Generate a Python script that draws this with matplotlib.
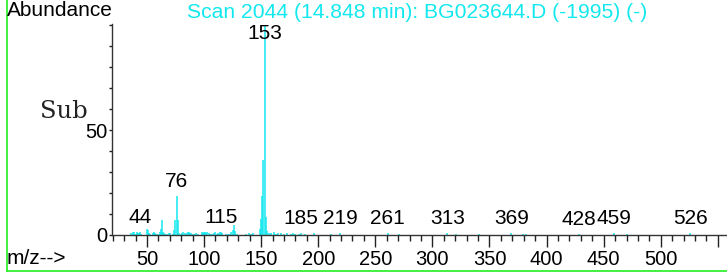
import matplotlib
matplotlib.use("Agg")
import matplotlib.pyplot as plt
from matplotlib.lines import Line2D

# spectrum (m/z, relative abundance)
mz = [36, 38, 39, 40, 41, 42, 43, 44, 45, 50, 51, 52, 53, 55, 56, 57, 58,
      60, 61, 62, 63, 64, 65, 66, 68, 69, 70, 73, 74, 75, 76, 77, 78,
      80, 81, 82, 83, 85, 86, 87, 88, 89, 90, 92, 93, 95, 98, 99, 100,
      101, 102, 103, 104, 105, 107, 109, 110, 111, 112, 113, 114, 115, 116,
      119, 121, 122, 124, 125, 126, 127, 129, 137, 139, 141, 143,
      149, 150, 151, 152, 153, 154, 155, 157, 159, 161, 163, 165, 167,
      170, 173, 176, 178, 180, 183, 185, 188, 196, 211, 219, 261, 271,
      313, 321, 341, 369, 379, 382, 428, 459, 470, 526]
abundance = [0.8, 1.2, 1.5, 0.7, 1.3, 0.9, 1.0, 1.6, 0.6, 3.0, 2.6, 1.0, 0.5, 0.9, 1.2, 1.0, 0.5,
             0.6, 1.2, 3.0, 7.2, 1.5, 1.0, 0.6, 0.5, 1.0, 0.8, 0.5, 2.2, 7.0, 18.8, 7.0, 1.0,
             0.6, 0.8, 1.2, 0.8, 1.0, 1.2, 1.3, 0.8, 1.0, 0.6, 0.7, 1.0, 0.5, 1.3, 1.0, 1.5,
             1.2, 1.0, 1.3, 0.8, 0.5, 0.6, 0.8, 1.2, 0.6, 1.0, 0.5, 1.2, 1.5, 0.8,
             0.5, 0.6, 0.5, 1.2, 2.5, 4.8, 2.0, 0.5, 0.7, 1.0, 0.5, 0.8,
             3.0, 7.6, 18.5, 35.5, 100.0, 8.5, 2.0, 1.0, 0.8, 1.2, 0.5, 0.8, 1.0,
             0.5, 0.8, 0.6, 1.0, 0.5, 0.5, 1.0, 0.6, 0.8, 0.7, 1.0, 0.8, 0.7,
             0.8, 0.5, 0.6, 0.8, 0.6, 0.7, 0.6, 0.8, 0.7, 0.8]
labelled = [44, 76, 115, 153, 185, 219, 261, 313, 369, 428, 459, 526]

title = "Scan 2044 (14.848 min): BG023644.D (-1995) (-)"
cyan = "#12E8EE"
W, H = 727, 273

fig = plt.figure(figsize=(W / 100, H / 100), dpi=100)
ax = fig.add_axes([112 / W, 38 / H, 615 / W, 211 / H])

ax.vlines(mz, 0, abundance, color=cyan, lw=1.1)

lookup = dict(zip(mz, abundance))
for m in labelled:
    h = min(lookup[m], 89)
    ax.text(m, h + 2.3, str(m), ha="center", va="bottom", fontsize=15,
            family="Liberation Sans")

ax.set_xlim(19.4, 558)
ax.set_ylim(0, 100.5)
for s in ["top", "right"]:
    ax.spines[s].set_visible(False)
for s in ["left", "bottom"]:
    ax.spines[s].set_color("#333333")
    ax.spines[s].set_linewidth(1.0)

xt = list(range(50, 551, 50))
ax.set_xticks(xt)
ax.set_xticklabels([str(v) if v < 550 else "" for v in xt])
ax.set_xticks(range(20, 551, 10), minor=True)
ax.tick_params(axis="x", which="major", length=8.6, width=1.0, pad=2,
               labelsize=14.5, color="#222222")
ax.tick_params(axis="x", which="minor", length=4.3, width=1.0, color="#222222")

ax.set_yticks([0, 50])
ax.set_yticks(range(10, 101, 10), minor=True)
ax.tick_params(axis="y", which="major", length=2.5, width=1.0, pad=1,
               labelsize=14.5, color="#222222")
ax.tick_params(axis="y", which="minor", length=2.0, width=1.0, color="#222222")
for lab in ax.get_xticklabels() + ax.get_yticklabels():
    lab.set_family("Liberation Sans")

fig.text(7 / W, 1 - 10 / H, "Abundance", fontsize=15, va="center", ha="left",
         family="Liberation Sans")
fig.text(417 / W, 1 - 12 / H, title, fontsize=15.2, va="center", ha="center",
         color=cyan, family="Liberation Sans")
fig.text(7 / W, 1 - 258 / H, "m/z-->", fontsize=15, va="center", ha="left",
         family="Liberation Sans")
# no Courier installed, a thin slab serif is the closest look
fig.text(64 / W, 1 - 111 / H, "Sub", fontsize=17.5, va="center", ha="center",
         family="DejaVu Serif", color="#222222")

# green frame (left and bottom edges)
green = "#22EE22"
fig.add_artist(Line2D([6.5 / W, 6.5 / W], [1.0, 1 - 271 / H], color=green,
                      lw=1.2, transform=fig.transFigure))
fig.add_artist(Line2D([6.5 / W, 1.0], [1 - 271 / H, 1 - 271 / H], color=green,
                      lw=1.2, transform=fig.transFigure))

fig.savefig("out.png", dpi=100)
